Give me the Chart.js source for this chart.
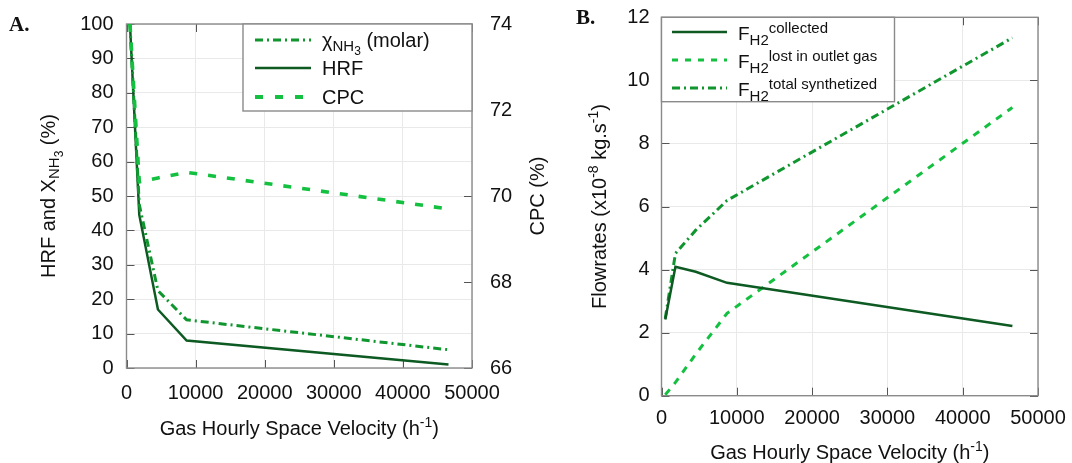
<!DOCTYPE html>
<html>
<head>
<meta charset="utf-8">
<script src="https://cdn.jsdelivr.net/npm/chart.js@4.4.1/dist/chart.umd.min.js"></script>
<style>
  html, body { margin: 0; padding: 0; background: #fff; }
  #wrap { position: relative; width: 1072px; height: 463px; }
  .panel { position: absolute; top: 0; height: 463px; }
  #boxA { left: 0; width: 560px; }
  #boxB { left: 540px; width: 532px; }
</style>
</head>
<body>
<div id="wrap">
  <div class="panel" id="boxA"><canvas id="chartA"></canvas></div>
  <div class="panel" id="boxB"><canvas id="chartB"></canvas></div>
</div>
<script>
/* data */
const ghsv = [500, 1850, 4550, 8700, 46600];
const hrf = [100, 44.5, 17.0, 8.0, 1.0];
const xNH3 = [100, 47.5, 22.5, 14.0, 5.3];
const cpc = [74.0, 70.33, 70.42, 70.55, 69.70];
const fCollected = [2.42, 4.09, 3.93, 3.58, 2.21];
const fLost = [0.03, 0.42, 1.32, 2.61, 9.14];
const fTotal = [2.45, 4.51, 5.25, 6.19, 11.35];

/* tick labels */
const xTicks = [0, 10000, 20000, 30000, 40000, 50000];
const leftTicksA = [0, 10, 20, 30, 40, 50, 60, 70, 80, 90, 100];
const rightTicksA = [66, 68, 70, 72, 74];
const leftTicksB = [0, 2, 4, 6, 8, 10, 12];

const FONT = '"Liberation Sans", Arial, sans-serif';
const DARK = '#0d5a22';
const MID = '#10962f';
const LIGHT = '#14c040';
const GRID = '#e9e9e9';
const FRAME = '#8a8a8a';
const TXT = '#111';
const DASHDOT = [8, 4, 2, 4];

const pts = ys => ghsv.map((x, i) => ({ x, y: ys[i] }));
const setTicks = arr => s => { s.ticks = arr.map(v => ({ value: v })); };
// fixed axis sizes, no extra label overflow padding
const fixW = w => s => { s.width = w; s.paddingTop = 0; s.paddingBottom = 0; };
const fixH = h => s => { s.height = h; s.paddingLeft = 0; s.paddingRight = 0; };

// draw a run of text pieces [text, size, dy] centred (or left aligned) at x,y
function rich(ctx, parts, x, y, opts = {}) {
  ctx.save();
  ctx.translate(x, y);
  if (opts.rot) ctx.rotate(opts.rot);
  ctx.fillStyle = TXT;
  ctx.textBaseline = 'alphabetic';
  let w = 0;
  parts.forEach(p => { ctx.font = p[1] + 'px ' + FONT; w += ctx.measureText(p[0]).width; });
  let cx = opts.left ? 0 : -w / 2;
  const base = parts[0][1] * 0.36;
  parts.forEach(p => {
    ctx.font = p[1] + 'px ' + FONT;
    ctx.fillText(p[0], cx, base + (p[2] || 0));
    cx += ctx.measureText(p[0]).width;
  });
  ctx.restore();
}

function sampleLine(ctx, x0, x1, y, color, width, dash) {
  ctx.save();
  ctx.strokeStyle = color;
  ctx.lineWidth = width;
  ctx.setLineDash(dash);
  ctx.beginPath();
  ctx.moveTo(x0, y);
  ctx.lineTo(x1, y);
  ctx.stroke();
  ctx.restore();
}

function panelLetter(ctx, t, x, y) {
  ctx.save();
  ctx.font = 'bold 21px "Liberation Serif", "Times New Roman", serif';
  ctx.fillStyle = TXT;
  ctx.textBaseline = 'alphabetic';
  ctx.fillText(t, x, y);
  ctx.restore();
}

// box frame plus inward tick marks
function frame(chart, sides) {
  const { ctx, chartArea: a } = chart;
  ctx.save();
  ctx.strokeStyle = '#555';
  ctx.lineWidth = 1;
  const L = 8;
  sides.forEach(([id, edge]) => {
    const s = chart.scales[id];
    s.ticks.forEach(t => {
      const p = Math.round(s.getPixelForValue(t.value)) + 0.5;
      ctx.beginPath();
      if (edge === 'bottom') { ctx.moveTo(p, a.bottom); ctx.lineTo(p, a.bottom - L); }
      if (edge === 'top') { ctx.moveTo(p, a.top); ctx.lineTo(p, a.top + L); }
      if (edge === 'left') { ctx.moveTo(a.left, p); ctx.lineTo(a.left + L, p); }
      if (edge === 'right') { ctx.moveTo(a.right, p); ctx.lineTo(a.right - L, p); }
      ctx.stroke();
    });
  });
  ctx.strokeStyle = FRAME;
  ctx.lineWidth = 1.4;
  ctx.strokeRect(a.left, a.top, a.right - a.left, a.bottom - a.top);
  ctx.restore();
}

const tickFont = { family: FONT, size: 20 };

/* ---------- panel A ---------- */
const decorA = {
  id: 'decorA',
  beforeDatasetsDraw(chart) {
    frame(chart, [['x', 'bottom'], ['x', 'top'], ['y', 'left'], ['y2', 'right']]);
  },
  afterDraw(chart) {
    const { ctx, chartArea: a } = chart;
    panelLetter(ctx, 'A.', 9, 31);
    const cx = (a.left + a.right) / 2;
    rich(ctx, [['Gas Hourly Space Velocity (h', 20], ['-1', 14, -8], [')', 20]], cx, a.bottom + 60);
    const cy = (a.top + a.bottom) / 2;
    rich(ctx, [['HRF and X', 20], ['NH', 15, 4], ['3', 12, 8], [' (%)', 20]], 48, cy, { rot: -Math.PI / 2 });
    rich(ctx, [['CPC (%)', 20]], a.right + 65, cy, { rot: -Math.PI / 2 });

    // legend
    const lx = 243, ly = a.top, lw = a.right - lx, lh = 111 - a.top;
    ctx.save();
    ctx.fillStyle = '#fff';
    ctx.fillRect(lx, ly, lw, lh);
    ctx.strokeStyle = FRAME;
    ctx.lineWidth = 1.4;
    ctx.strokeRect(lx, ly, lw, lh);
    ctx.restore();
    sampleLine(ctx, 255, 311, 40, MID, 3, DASHDOT);
    sampleLine(ctx, 255, 311, 68, DARK, 2.5, []);
    sampleLine(ctx, 255, 311, 97, LIGHT, 4, [8, 12]);
    rich(ctx, [['\u03c7', 20], ['NH', 15, 4], ['3', 12, 8], [' (molar)', 20]], 322, 40, { left: true });
    rich(ctx, [['HRF', 20]], 322, 68, { left: true });
    rich(ctx, [['CPC', 20]], 322, 97, { left: true });
  }
};

new Chart(document.getElementById('chartA'), {
  type: 'line',
  data: {
    datasets: [
      { label: 'CPC', data: pts(cpc), yAxisID: 'y2', borderColor: LIGHT, borderWidth: 3.6, borderDash: [8, 11] },
      { label: 'XNH3 (molar)', data: pts(xNH3), yAxisID: 'y', borderColor: MID, borderWidth: 3, borderDash: DASHDOT },
      { label: 'HRF', data: pts(hrf), yAxisID: 'y', borderColor: DARK, borderWidth: 2.5 }
    ]
  },
  options: {
    responsive: true,
    maintainAspectRatio: false,
    animation: false,
    layout: { padding: { top: 24, right: 20, left: 0, bottom: 0 } },
    elements: { point: { radius: 0 }, line: { tension: 0, fill: false } },
    plugins: { legend: { display: false }, tooltip: { enabled: false } },
    scales: {
      x: {
        type: 'linear', min: 0, max: 50000,
        afterBuildTicks: setTicks(xTicks),
        afterFit: fixH(95),
        grid: { color: GRID, drawTicks: false },
        border: { display: false },
        ticks: { font: tickFont, color: TXT, padding: 13, maxRotation: 0, autoSkip: false, callback: v => String(v) }
      },
      y: {
        position: 'left', min: 0, max: 100,
        afterBuildTicks: setTicks(leftTicksA),
        afterFit: fixW(126.5),
        grid: { color: GRID, drawTicks: false },
        border: { display: false },
        ticks: { font: tickFont, color: TXT, padding: 13 }
      },
      y2: {
        position: 'right', min: 66, max: 74,
        afterBuildTicks: setTicks(rightTicksA),
        afterFit: fixW(68),
        grid: { display: false, drawTicks: false },
        border: { display: false },
        ticks: { font: tickFont, color: TXT, padding: 18 }
      }
    }
  },
  plugins: [decorA]
});

/* ---------- panel B ---------- */
const decorB = {
  id: 'decorB',
  beforeDatasetsDraw(chart) {
    frame(chart, [['x', 'bottom'], ['x', 'top'], ['y', 'left'], ['y', 'right']]);
  },
  afterDraw(chart) {
    const { ctx, chartArea: a } = chart;
    panelLetter(ctx, 'B.', 36, 24);
    const cx = (a.left + a.right) / 2;
    rich(ctx, [['Gas Hourly Space Velocity (h', 20], ['-1', 14, -8], [')', 20]], cx, a.bottom + 56);
    const cy = (a.top + a.bottom) / 2;
    rich(ctx, [['Flowrates (x10', 20], ['-8', 14, -8], [' kg.s', 20], ['-1', 14, -8], [')', 20]], 59, cy, { rot: -Math.PI / 2 });

    // legend
    const lx = a.left, ly = a.top, lw = 354.5 - a.left, lh = 101.7 - a.top;
    ctx.save();
    ctx.fillStyle = '#fff';
    ctx.fillRect(lx, ly, lw, lh);
    ctx.strokeStyle = FRAME;
    ctx.lineWidth = 1.4;
    ctx.strokeRect(lx, ly, lw, lh);
    ctx.restore();
    const rows = [32, 60, 88];
    sampleLine(ctx, 132, 187, rows[0], DARK, 2.5, []);
    sampleLine(ctx, 132, 187, rows[1], LIGHT, 3, [6, 7]);
    sampleLine(ctx, 132, 187, rows[2], MID, 3, DASHDOT);
    const sups = ['collected', 'lost in outlet gas', 'total synthetized'];
    rows.forEach((y, i) => {
      rich(ctx, [['F', 19], ['H2', 15, 5], [sups[i], 15, -7]], 198, y + 1, { left: true });
    });
  }
};

new Chart(document.getElementById('chartB'), {
  type: 'line',
  data: {
    datasets: [
      { label: 'FH2 collected', data: pts(fCollected), borderColor: DARK, borderWidth: 2.5 },
      { label: 'FH2 lost in outlet gas', data: pts(fLost), borderColor: LIGHT, borderWidth: 3, borderDash: [7, 7] },
      { label: 'FH2 total synthetized', data: pts(fTotal), borderColor: MID, borderWidth: 3, borderDash: DASHDOT }
    ]
  },
  options: {
    responsive: true,
    maintainAspectRatio: false,
    animation: false,
    layout: { padding: { top: 17.3, right: 34, left: 0, bottom: 0 } },
    elements: { point: { radius: 0 }, line: { tension: 0, fill: false } },
    plugins: { legend: { display: false }, tooltip: { enabled: false } },
    scales: {
      x: {
        type: 'linear', min: 0, max: 50000,
        afterBuildTicks: setTicks(xTicks),
        afterFit: fixH(67.3),
        grid: { color: GRID, drawTicks: false },
        border: { display: false },
        ticks: { font: tickFont, color: TXT, padding: 11, maxRotation: 0, autoSkip: false, callback: v => String(v) }
      },
      y: {
        position: 'left', min: 0, max: 12,
        afterBuildTicks: setTicks(leftTicksB),
        afterFit: fixW(121.5),
        grid: { color: GRID, drawTicks: false },
        border: { display: false },
        ticks: { font: tickFont, color: TXT, padding: 12 }
      }
    }
  },
  plugins: [decorB]
});
</script>
</body>
</html>
